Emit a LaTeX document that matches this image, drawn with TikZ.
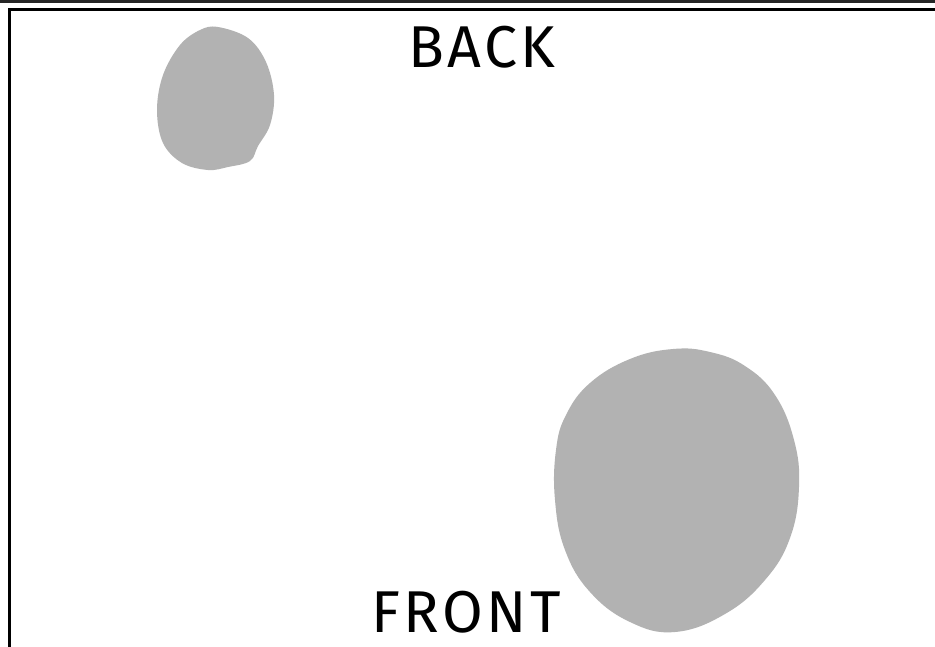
\documentclass[tikz,border=0pt]{standalone}
\usepackage{fontspec}
\setmainfont{Fira Sans}[LetterSpace=6]
\definecolor{blobgray}{HTML}{B2B2B2}
\begin{document}
\begin{tikzpicture}[x=1pt,y=-1pt,
  blob/.style={fill=blobgray,draw=none},
  lbl/.style={anchor=base,inner sep=0pt,font=\fontsize{59}{60}\selectfont}]
\useasboundingbox (0,0) rectangle (935,646);
\fill[white] (0,0) rectangle (935,646);
% frame
\draw[line width=2.7pt,color=black!85] (0,1.3) -- (935,1.3);
\draw[line width=3pt,black] (9.2,650) -- (9.2,9.5) -- (940,9.5);
% blobs
\fill[blob] plot[smooth cycle,tension=0.6] coordinates {
  (218,27) (248,38) (266,62) (274,95) (270,125) (258,146) (250,161)
  (228,167) (208,170) (182,163) (163,143) (157,110) (163,75) (180,45) (200,30)};
\fill[blob] plot[smooth cycle,tension=0.7] coordinates {
  (673,349) (710,352) (745,366) (775,395) (794,440) (799,487) (790,538)
  (765,580) (725,614) (675,632) (630,622) (590,592) (565,550) (555,500)
  (556,450) (566,415) (590,383) (630,359)};
% labels
\node[lbl] (back) at (482,67) {BACK};
\node[lbl] (front) at (466,632) {FRONT};
\end{tikzpicture}
\end{document}
